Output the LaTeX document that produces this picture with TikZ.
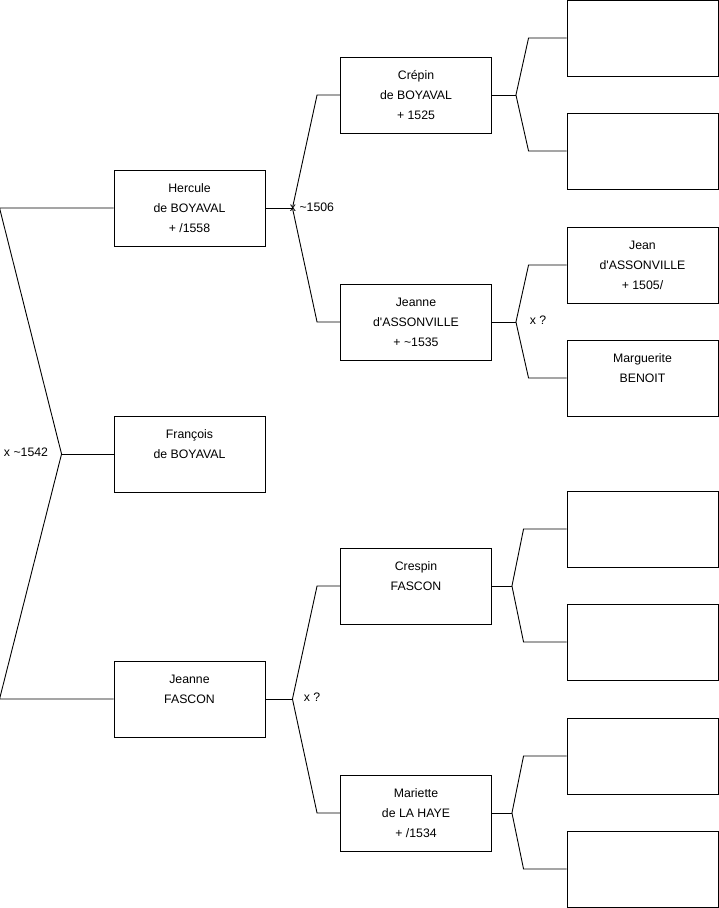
\documentclass[tikz,border=0pt]{standalone}
\usepackage{fontspec}
\setmainfont{Liberation Sans}

\tikzset{
  person/.style={draw, line width=0.9pt, minimum width=151pt, minimum height=76pt,
    inner sep=0pt, align=center},
  union/.style={inner sep=0pt},
  link/.style={line width=0.9pt, line join=miter}
}

\begin{document}
\begin{tikzpicture}[x=1pt,y=-1pt,node font=\fontsize{12.3pt}{20pt}\selectfont]
  \useasboundingbox (0,0) rectangle (719,908);
  % enfants
  \node[person] (herc) at (189.5,208) {Hercule\\de BOYAVAL\\+ /1558};
  \node[person] (fran) at (189.5,454) {François\\de BOYAVAL\\\mbox{}};
  \node[person] (jfas) at (189.5,699) {Jeanne\\FASCON\\\mbox{}};
  % parents
  \node[person] (crep) at (416,95) {Crépin\\de BOYAVAL\\+ 1525};
  \node[person] (jass) at (416,322) {Jeanne\\d\textquotesingle ASSONVILLE\\+ \textasciitilde1535};
  \node[person] (cres) at (416,586) {Crespin\\FASCON\\\mbox{}};
  \node[person] (mari) at (416,813) {Mariette\\de LA HAYE\\+ /1534};
  % grands-parents
  \node[person] (gp1) at (642.5,38) {};
  \node[person] (gp2) at (642.5,151) {};
  \node[person] (gp3) at (642.5,265) {Jean\\d\textquotesingle ASSONVILLE\\+ 1505/};
  \node[person] (gp4) at (642.5,378) {Marguerite\\BENOIT\\\mbox{}};
  \node[person] (gp5) at (642.5,529) {};
  \node[person] (gp6) at (642.5,642) {};
  \node[person] (gp7) at (642.5,756) {};
  \node[person] (gp8) at (642.5,869) {};
  % unions
  \node[union] (u0) at (26,452) {x \textasciitilde1542};
  \node[union] (u1) at (312,207) {x \textasciitilde1506};
  \node[union] (u2) at (312,697) {x ?};
  \node[union] (u3) at (538,320) {x ?};
  % sommets des accolades
  \coordinate (v0) at ([xshift=-52pt]fran.west);
  \coordinate (v1) at ([xshift=27pt]herc.east);
  \coordinate (v2) at ([xshift=27pt]jfas.east);
  \coordinate (v3) at ([xshift=24pt]crep.east);
  \coordinate (v4) at ([xshift=24pt]jass.east);
  \coordinate (v5) at ([xshift=20pt]cres.east);
  \coordinate (v6) at ([xshift=20pt]mari.east);
  % accolade de gauche
  \draw[link] (herc.west) -- ([xshift=-114pt]herc.west) -- (v0) -- ([xshift=-114pt]jfas.west) -- (jfas.west);
  \draw[link] (v0) -- (fran.west);
  % parents
  \draw[link] (herc.east) -- (v1);
  \draw[link] (crep.west) -- ([xshift=-23pt]crep.west) -- (v1) -- ([xshift=-23pt]jass.west) -- (jass.west);
  \draw[link] (jfas.east) -- (v2);
  \draw[link] (cres.west) -- ([xshift=-23pt]cres.west) -- (v2) -- ([xshift=-23pt]mari.west) -- (mari.west);
  % grands-parents
  \draw[link] (crep.east) -- (v3);
  \draw[link] (gp1.west) -- ([xshift=-38pt]gp1.west) -- (v3) -- ([xshift=-38pt]gp2.west) -- (gp2.west);
  \draw[link] (jass.east) -- (v4);
  \draw[link] (gp3.west) -- ([xshift=-38pt]gp3.west) -- (v4) -- ([xshift=-38pt]gp4.west) -- (gp4.west);
  \draw[link] (cres.east) -- (v5);
  \draw[link] (gp5.west) -- ([xshift=-43pt]gp5.west) -- (v5) -- ([xshift=-43pt]gp6.west) -- (gp6.west);
  \draw[link] (mari.east) -- (v6);
  \draw[link] (gp7.west) -- ([xshift=-43pt]gp7.west) -- (v6) -- ([xshift=-43pt]gp8.west) -- (gp8.west);
\end{tikzpicture}
\end{document}
